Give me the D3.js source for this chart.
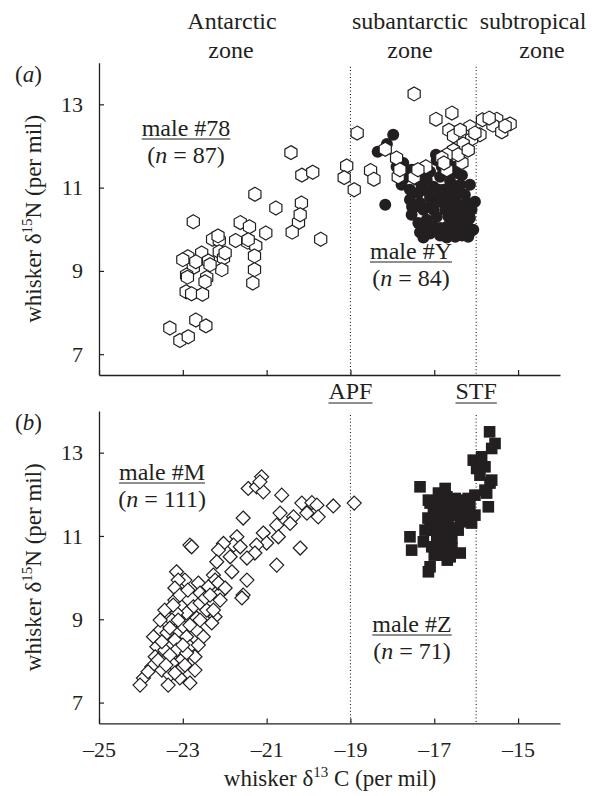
<!DOCTYPE html>
<html><head><meta charset="utf-8">
<script src="https://cdn.jsdelivr.net/npm/d3@7"></script>
<style>
body{margin:0;background:#fff}
svg text{font-family:"Liberation Serif","Times New Roman",serif;fill:#231f20}
</style>
</head><body>
<svg id="chart" width="603" height="796"></svg>
<script>
// ---------- data ----------
const xTicks = [-25, -23, -21, -19, -17, -15];
const yTicks = [7, 9, 11, 13];
const frontNames = ["APF", "STF"];
const frontX = [-19, -16];
const zoneLines1 = ["Antarctic", "subantarctic", "subtropical"];
const zoneLines2 = ["zone", "zone", "zone"];

// panel (a) male #78 (open hexagons)
const m78C = [-22.75,-21.63,-21.41,-21.02,-20.78,-20.17,-20.24,-20.39,-19.71,-22.29,-22.13,-21.74,-21.45,-21.26,-21.29,-21.29,-21.33,-22.88,-22.55,-22.39,-22.13,-22.03,-22.07,-22.75,-22.91,-22.89,-22.43,-22.92,-22.79,-22.53,-23.31,-22.69,-22.45,-23.07,-22.87,-20.42,-20.16,-19.90,-21.28,-19.09,-19.15,-18.91,-18.84,-17.48,-16.96,-16.58,-15.91,-15.85,-15.51,-15.60,-15.19,-15.39,-16.65,-16.54,-16.15,-16.27,-16.11,-16.31,-16.54,-16.70,-16.82,-16.34,-18.17,-17.90,-18.52,-18.44,-17.86,-17.48,-17.20,-16.70,-21.99,-22.35,-22.16,-22.69,-21.44,-16.38,-16.03,-16.43,-16.19,-16.77,-15.31,-15.69,-17.82,-17.39,-22.47,-20.20,-23.00];
const m78N = [10.18,10.16,10.06,9.91,10.51,10.63,10.16,9.93,9.76,9.76,9.73,9.73,9.69,9.60,9.36,9.03,8.71,9.34,9.43,9.24,9.46,9.31,9.03,9.08,8.90,8.85,8.84,8.50,8.45,8.44,7.63,7.82,7.68,7.33,7.42,11.84,11.30,11.37,10.84,11.52,11.24,10.95,12.31,13.25,12.64,12.79,12.27,12.63,12.64,12.50,12.53,12.34,12.38,12.24,12.46,12.24,12.17,12.05,11.90,11.79,11.71,11.60,11.92,11.71,11.41,11.20,11.26,11.25,11.50,11.43,9.43,9.15,9.84,9.22,9.75,12.38,12.31,11.79,11.90,11.59,12.48,12.67,11.43,11.43,8.74,10.35,9.27];

// panel (a) male #Y (filled circles)
const mYC = [-17.98,-18.13,-18.35,-17.90,-18.17,-16.96,-17.66,-17.78,-17.58,-17.54,-17.38,-17.34,-17.26,-17.10,-16.86,-16.70,-16.54,-16.34,-16.15,-16.22,-16.27,-16.22,-16.27,-16.38,-16.46,-17.02,-16.94,-16.66,-16.70,-16.50,-17.38,-17.34,-17.22,-17.18,-17.02,-16.86,-16.78,-16.62,-16.66,-16.78,-16.46,-16.46,-17.10,-17.18,-17.02,-17.42,-17.54,-16.94,-16.70,-16.54,-16.82,-17.10,-16.34,-16.15,-16.11,-16.31,-16.07,-17.26,-17.46,-17.58,-16.34,-16.58,-16.94,-17.10,-16.90,-16.74,-17.82,-17.30,-16.46,-16.03,-17.74,-17.72,-17.15,-16.86,-16.58,-16.34,-17.22,-16.86,-16.50,-16.19,-17.53,-16.67,-17.34,-16.15];
const mYN = [12.27,12.05,11.86,11.50,10.59,11.79,11.35,11.07,10.71,10.35,10.15,9.93,9.80,9.90,9.85,9.80,9.93,9.85,9.93,10.15,10.39,10.63,10.83,11.07,11.35,10.47,10.30,10.30,10.06,10.15,10.87,10.63,11.50,11.19,11.02,11.26,10.95,11.14,10.78,10.63,10.63,10.39,10.75,10.23,10.06,11.19,11.43,11.66,11.66,11.50,11.50,11.38,11.30,11.07,10.47,10.27,9.99,10.47,10.54,10.95,10.06,10.54,10.66,10.54,10.95,10.47,11.43,11.02,10.87,10.66,11.59,11.23,10.90,10.83,10.99,10.47,10.03,10.03,9.82,9.82,10.54,11.38,11.30,10.27];

// panel (b) male #M (open diamonds)
const mMC = [-21.12,-21.44,-21.24,-21.08,-21.16,-20.64,-20.16,-19.92,-19.80,-19.41,-18.91,-20.04,-20.36,-19.77,-20.44,-20.68,-20.76,-20.72,-21.08,-21.00,-21.24,-21.28,-21.56,-21.71,-21.79,-22.03,-22.15,-22.19,-21.47,-20.76,-20.20,-22.83,-22.79,-22.27,-22.23,-22.63,-22.95,-23.15,-23.11,-23.19,-22.11,-21.56,-21.59,-21.47,-23.19,-23.03,-22.75,-22.59,-22.43,-22.23,-22.31,-22.67,-22.91,-23.15,-23.26,-22.99,-22.67,-22.51,-22.91,-23.19,-23.54,-23.70,-23.62,-23.43,-23.15,-22.83,-22.63,-22.71,-23.03,-23.26,-23.66,-23.74,-23.50,-23.31,-23.07,-23.94,-24.02,-23.35,-22.83,-23.07,-23.19,-22.27,-22.11,-23.54,-23.38,-22.91,-22.59,-22.39,-22.15,-21.83,-21.87,-21.63,-23.43,-23.31,-23.07,-22.83,-22.47,-23.50,-22.95,-23.31,-23.59,-22.71,-23.11,-22.59,-22.88,-22.35,-23.83,-23.00,-23.40,-21.99,-23.23];
const mMN = [12.42,12.14,12.18,12.06,12.30,11.98,11.79,11.80,11.74,11.72,11.79,11.55,11.46,11.46,11.30,11.55,11.26,10.98,11.07,10.83,10.78,10.59,11.43,10.98,10.78,10.82,10.66,10.38,10.47,10.30,10.71,10.78,10.74,10.06,9.94,9.87,9.94,10.14,9.94,9.75,9.63,9.58,9.51,9.94,9.46,9.30,9.30,9.39,9.22,9.06,8.91,9.03,9.15,9.15,8.98,8.82,8.74,8.58,8.58,8.50,8.74,8.58,8.34,8.26,8.26,8.34,8.38,8.10,8.02,7.95,8.10,7.86,7.78,7.66,7.78,7.59,7.42,7.42,7.47,7.59,7.71,9.22,9.46,8.98,8.67,8.19,9.63,9.78,9.87,10.14,10.50,10.74,9.22,8.79,9.58,8.86,9.51,8.46,7.90,8.14,8.02,7.78,8.98,8.98,9.70,9.58,7.74,8.38,7.90,9.75,9.34];

// panel (b) male #Z (filled squares)
const mZC = [-15.68,-15.55,-15.63,-16.07,-15.87,-15.79,-15.99,-15.67,-15.79,-15.75,-15.71,-16.03,-16.03,-16.11,-16.31,-17.34,-16.74,-16.90,-17.14,-17.10,-16.50,-16.62,-16.90,-17.02,-16.78,-16.46,-16.98,-17.10,-16.74,-16.38,-16.82,-16.94,-17.58,-17.26,-17.54,-17.06,-16.70,-16.58,-16.38,-16.82,-16.62,-17.10,-17.14,-16.86,-16.70,-16.54,-17.02,-16.86,-16.70,-16.38,-16.19,-15.63,-16.93,-16.77,-16.66,-17.05,-16.86,-16.67,-16.50,-16.93,-16.79,-17.22,-16.58,-16.43,-17.00,-16.69,-17.15,-16.27,-16.15,-15.91,-16.22];
const mZN = [13.50,13.22,13.10,12.82,12.90,12.66,12.62,12.27,12.10,12.03,11.70,11.98,11.50,11.31,11.86,12.18,12.14,12.03,11.86,11.79,11.90,11.74,11.66,11.55,11.46,11.50,11.26,11.22,11.22,11.34,11.02,10.90,10.98,10.86,10.66,10.74,10.86,10.71,10.59,10.54,10.50,10.26,10.14,10.62,11.07,11.19,11.38,11.82,11.94,11.82,11.90,12.34,11.62,11.74,11.58,11.14,11.19,11.34,11.67,11.02,10.78,11.14,10.95,11.14,10.54,10.42,11.43,11.62,11.74,12.46,11.43];

// ---------- drawing ----------
const svg = d3.select("#chart");
const ink = "#231f20";
const x = d3.scaleLinear().domain([-25, -14]).range([99, 560]);
const yA = d3.scaleLinear().domain([6.5, 14]).range([375, 62.7]);
const yB = d3.scaleLinear().domain([6.5, 14]).range([723.4, 411]);

function hexPath(r) {
  const pts = d3.range(6).map(i => {
    const a = Math.PI / 3 * i - Math.PI / 2;
    return [r * Math.cos(a), r * Math.sin(a)];
  });
  return "M" + pts.map(p => p.join(",")).join("L") + "Z";
}

function drawAxes(y, showXLabels) {
  const gy = svg.append("g").attr("transform", `translate(${x.range()[0]},0)`)
    .call(d3.axisLeft(y).tickValues(yTicks).tickSize(-5).tickSizeOuter(0).tickPadding(16).tickFormat(d3.format("d")));
  gy.select(".domain").attr("stroke", ink).attr("stroke-width", 1.3);
  gy.selectAll(".tick line").attr("stroke", ink).attr("stroke-width", 1.2);
  gy.selectAll(".tick text").attr("font-size", 22).attr("fill", ink)
    .attr("font-family", '"Liberation Serif",serif');

  const gx = svg.append("g").attr("transform", `translate(0,${y.range()[0]})`)
    .call(d3.axisBottom(x).tickValues(xTicks).tickSize(-5).tickSizeOuter(0).tickPadding(18)
      .tickFormat(d => showXLabels ? "\u2013" + Math.abs(d) : ""));
  gx.select(".domain").attr("stroke", ink).attr("stroke-width", 1.3);
  gx.selectAll(".tick line").attr("stroke", ink).attr("stroke-width", 1.2);
  gx.selectAll(".tick text").attr("font-size", 22).attr("fill", ink)
    .attr("font-family", '"Liberation Serif",serif');

  // front lines (dotted)
  svg.append("g").selectAll("line").data(frontX).join("line")
    .attr("x1", d => x(d)).attr("x2", d => x(d))
    .attr("y1", y.range()[1] + 4).attr("y2", y.range()[0])
    .attr("stroke", ink).attr("stroke-width", 1.1).attr("stroke-dasharray", "1,2.4");

  // y title
  const t = svg.append("text")
    .attr("transform", `translate(41,${(y.range()[0] + y.range()[1]) / 2}) rotate(-90)`)
    .attr("text-anchor", "middle").attr("font-size", 23);
  t.append("tspan").text("whisker \u03b4");
  t.append("tspan").attr("font-size", 15).attr("dy", -9).text("15");
  t.append("tspan").attr("dy", 9).text("N (per mil)");
}

function label(xp, yp, main, nVal) {
  const g = svg.append("g");
  const t1 = g.append("text").attr("x", xp).attr("y", yp).attr("text-anchor", "middle")
    .attr("font-size", 24).text(main);
  const w = t1.node().getComputedTextLength();
  g.append("line").attr("x1", xp - w / 2).attr("x2", xp + w / 2)
    .attr("y1", yp + 3).attr("y2", yp + 3).attr("stroke", ink).attr("stroke-width", 1.2);
  const t2 = g.append("text").attr("x", xp).attr("y", yp + 27).attr("text-anchor", "middle")
    .attr("font-size", 24);
  t2.append("tspan").text("(");
  t2.append("tspan").attr("font-style", "italic").text("n");
  t2.append("tspan").text(" = " + nVal + ")");
}

drawAxes(yA, false);
drawAxes(yB, true);

// zone labels
svg.append("g").selectAll("text").data(zoneLines1).join("text")
  .attr("x", (d, i) => [232, 410, 533][i]).attr("y", 29)
  .attr("text-anchor", "middle").attr("font-size", 24).text(d => d);
svg.append("g").selectAll("text").data(zoneLines2).join("text")
  .attr("x", (d, i) => [231, 410, 542][i]).attr("y", 58)
  .attr("text-anchor", "middle").attr("font-size", 24).text(d => d);

// front names (underlined)
frontNames.forEach((nm, i) => {
  const xp = x(frontX[i]);
  const t = svg.append("text").attr("x", xp).attr("y", 399).attr("text-anchor", "middle")
    .attr("font-size", 24).text(nm);
  const w = t.node().getComputedTextLength();
  svg.append("line").attr("x1", xp - w / 2).attr("x2", xp + w / 2).attr("y1", 403).attr("y2", 403)
    .attr("stroke", ink).attr("stroke-width", 1.2);
});

// panel tags
function tag(yp, letter) {
  const t = svg.append("text").attr("x", 15).attr("y", yp).attr("font-size", 23);
  t.append("tspan").text("(");
  t.append("tspan").attr("font-style", "italic").text(letter);
  t.append("tspan").text(")");
}
tag(82, "a");
tag(430, "b");

// points panel a
const circ = d3.range(mYC.length).map(i => ({c: mYC[i], n: mYN[i]}));
svg.append("g").selectAll("circle").data(circ).join("circle")
  .attr("cx", d => x(d.c)).attr("cy", d => yA(d.n)).attr("r", 6).attr("fill", ink);

const hex = d3.range(m78C.length).map(i => ({c: m78C[i], n: m78N[i]}));
svg.append("g").selectAll("path").data(hex).join("path")
  .attr("d", hexPath(7)).attr("transform", d => `translate(${x(d.c)},${yA(d.n)})`)
  .attr("fill", "#fff").attr("stroke", ink).attr("stroke-width", 1.2);

// points panel b
const dia = d3.range(mMC.length).map(i => ({c: mMC[i], n: mMN[i]}));
svg.append("g").selectAll("path").data(dia).join("path")
  .attr("d", "M0,-7L7,0L0,7L-7,0Z").attr("transform", d => `translate(${x(d.c)},${yB(d.n)})`)
  .attr("fill", "#fff").attr("stroke", ink).attr("stroke-width", 1.2);

const sq = d3.range(mZC.length).map(i => ({c: mZC[i], n: mZN[i]}));
svg.append("g").selectAll("rect").data(sq).join("rect")
  .attr("x", d => x(d.c) - 5.8).attr("y", d => yB(d.n) - 5.8).attr("width", 11.6).attr("height", 11.6)
  .attr("fill", ink);

// annotations
label(186, 136, "male #78", 87);
label(411, 259, "male #Y", 84);
label(162, 480, "male #M", 111);
label(412, 632, "male #Z", 71);

// x title
const xt = svg.append("text").attr("x", 330).attr("y", 786).attr("text-anchor", "middle").attr("font-size", 23);
xt.append("tspan").text("whisker \u03b4");
xt.append("tspan").attr("font-size", 15).attr("dy", -9).text("13");
xt.append("tspan").attr("dy", 9).text(" C (per mil)");
</script>
</body></html>
